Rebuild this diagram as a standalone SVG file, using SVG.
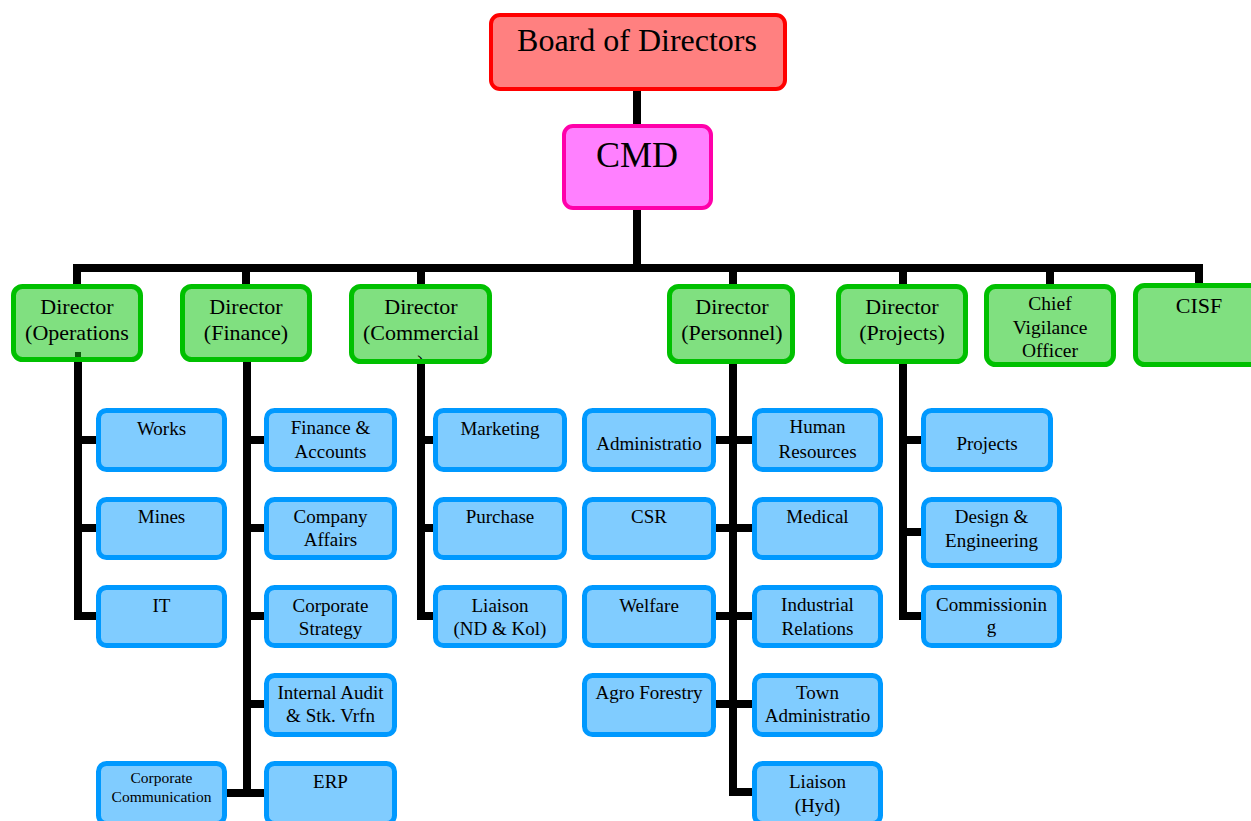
<svg xmlns="http://www.w3.org/2000/svg" width="1251" height="821" viewBox="0 0 1251 821">
<defs>
<style>
.t{font-family:"Liberation Serif","Times New Roman",serif;fill:#000;text-anchor:middle}
.top{fill:#FF8080;stroke:#FF0000;stroke-width:4}
.cmd{fill:#FF80FF;stroke:#FF00AA;stroke-width:4}
.dir{fill:#80E080;stroke:#00C000;stroke-width:5}
.unit{fill:#80CCFF;stroke:#0099FF;stroke-width:5}
.d{font-size:22px}
.u{font-size:19px}
.c{fill:none;stroke:#000;stroke-width:8;stroke-linejoin:miter}
</style>
<clipPath id="clipCom"><rect x="354" y="289" width="133" height="70"/></clipPath>
</defs>
<g id="connectors">
<path class="c" d="M637,91 V126 M637,208 V268"/>
<path class="c" d="M77,286 V268 H1199 V285 M246,268 V286 M421,268 V286 M733,268 V286 M903,268 V286 M1050,268 V286"/>
<path class="c" d="M78,360 V616 H98 M78,440 H98 M78,528 H98"/>
<path class="c" d="M247,360 V793 M227,793 H266 M247,440 H266 M247,528 H266 M247,616 H266 M247,704 H266"/>
<path class="c" d="M421,362 V616 H435 M421,440 H435 M421,528 H435"/>
<path class="c" d="M733,362 V792 H754 M714,440 H754 M714,528 H754 M714,616 H754 M714,704 H754"/>
<path class="c" d="M903,362 V616 H923 M903,440 H923 M903,532 H923"/>
</g>
<g id="board"><rect class="top" x="491" y="15" width="294" height="74" rx="9"/><text class="t" x="637" y="51" font-size="32">Board of Directors</text></g>
<g id="cmd"><rect class="cmd" x="564" y="126" width="147" height="82" rx="9"/><text class="t" x="637" y="167" font-size="36">CMD</text></g>
<g id="dir-operations"><rect class="dir" x="13.5" y="286.5" width="127" height="73" rx="9"/><text class="t d" x="77" y="314">Director</text><text class="t d" x="77" y="340">(Operations</text><rect x="75" y="352" width="6" height="5" fill="#0A5A0A"/></g>
<g id="dir-finance"><rect class="dir" x="182.5" y="286.5" width="127" height="73" rx="9"/><text class="t d" x="246" y="314">Director</text><text class="t d" x="246" y="340">(Finance)</text></g>
<g id="dir-commercial"><rect class="dir" x="351.5" y="286.5" width="138" height="75" rx="9"/><text class="t d" x="421" y="314">Director</text><text class="t d" x="421" y="340">(Commercial</text><text class="t d" x="421" y="370" clip-path="url(#clipCom)">)</text></g>
<g id="dir-personnel"><rect class="dir" x="669.5" y="286.5" width="123" height="75" rx="9"/><text class="t d" x="732" y="314">Director</text><text class="t d" x="732" y="340">(Personnel)</text></g>
<g id="dir-projects"><rect class="dir" x="838.5" y="286.5" width="127" height="75" rx="9"/><text class="t d" x="902" y="314">Director</text><text class="t d" x="902" y="340">(Projects)</text></g>
<g id="cvo"><rect class="dir" x="986.5" y="286.5" width="127" height="78" rx="9"/><text class="t" font-size="19.5" x="1050" y="310">Chief</text><text class="t" font-size="19.5" x="1050" y="334">Vigilance</text><text class="t" font-size="19.5" x="1050" y="357">Officer</text></g>
<g id="cisf"><rect class="dir" x="1135.5" y="285.5" width="127" height="79" rx="9"/><text class="t d" x="1199" y="313">CISF</text></g>
<g id="works"><rect class="unit" x="98.5" y="410.5" width="126" height="59" rx="8"/><text class="t u" x="161.5" y="435">Works</text></g>
<g id="mines"><rect class="unit" x="98.5" y="499.5" width="126" height="58" rx="8"/><text class="t u" x="161.5" y="523">Mines</text></g>
<g id="it"><rect class="unit" x="98.5" y="587.5" width="126" height="58" rx="8"/><text class="t u" x="161.5" y="612">IT</text></g>
<g id="corp-comm"><rect class="unit" x="98.5" y="763.5" width="126" height="60" rx="8"/><text class="t" font-size="15.5" x="161.5" y="783">Corporate</text><text class="t" font-size="15.5" x="161.5" y="802">Communication</text></g>
<g id="fin-acc"><rect class="unit" x="266.5" y="410.5" width="128" height="59" rx="8"/><text class="t u" x="330.5" y="434">Finance &amp;</text><text class="t u" x="330.5" y="458">Accounts</text></g>
<g id="company-affairs"><rect class="unit" x="266.5" y="499.5" width="128" height="58" rx="8"/><text class="t u" x="330.5" y="523">Company</text><text class="t u" x="330.5" y="546">Affairs</text></g>
<g id="corp-strategy"><rect class="unit" x="266.5" y="587.5" width="128" height="58" rx="8"/><text class="t u" x="330.5" y="612">Corporate</text><text class="t u" x="330.5" y="635">Strategy</text></g>
<g id="internal-audit"><rect class="unit" x="266.5" y="675.5" width="128" height="59" rx="8"/><text class="t u" x="330.5" y="699">Internal Audit</text><text class="t u" x="330.5" y="722">&amp; Stk. Vrfn</text></g>
<g id="erp"><rect class="unit" x="266.5" y="763.5" width="128" height="60" rx="8"/><text class="t u" x="330.5" y="788">ERP</text></g>
<g id="marketing"><rect class="unit" x="435.5" y="410.5" width="129" height="59" rx="8"/><text class="t u" x="500" y="435">Marketing</text></g>
<g id="purchase"><rect class="unit" x="435.5" y="499.5" width="129" height="58" rx="8"/><text class="t u" x="500" y="523">Purchase</text></g>
<g id="liaison-nd"><rect class="unit" x="435.5" y="587.5" width="129" height="58" rx="8"/><text class="t u" x="500" y="612">Liaison</text><text class="t u" x="500" y="635">(ND &amp; Kol)</text></g>
<g id="administration"><rect class="unit" x="584.5" y="410.5" width="129" height="59" rx="8"/><text class="t u" x="649" y="450">Administratio</text></g>
<g id="csr"><rect class="unit" x="584.5" y="499.5" width="129" height="58" rx="8"/><text class="t u" x="649" y="523">CSR</text></g>
<g id="welfare"><rect class="unit" x="584.5" y="587.5" width="129" height="58" rx="8"/><text class="t u" x="649" y="612">Welfare</text></g>
<g id="agro"><rect class="unit" x="584.5" y="675.5" width="129" height="59" rx="8"/><text class="t u" x="649" y="699">Agro Forestry</text></g>
<g id="hr"><rect class="unit" x="754.5" y="410.5" width="126" height="59" rx="8"/><text class="t u" x="817.5" y="433">Human</text><text class="t u" x="817.5" y="458">Resources</text></g>
<g id="medical"><rect class="unit" x="754.5" y="499.5" width="126" height="58" rx="8"/><text class="t u" x="817.5" y="523">Medical</text></g>
<g id="ir"><rect class="unit" x="754.5" y="587.5" width="126" height="58" rx="8"/><text class="t u" x="817.5" y="611">Industrial</text><text class="t u" x="817.5" y="635">Relations</text></g>
<g id="town"><rect class="unit" x="754.5" y="675.5" width="126" height="59" rx="8"/><text class="t u" x="817.5" y="699">Town</text><text class="t u" x="817.5" y="722">Administratio</text></g>
<g id="liaison-hyd"><rect class="unit" x="754.5" y="763.5" width="126" height="60" rx="8"/><text class="t u" x="817.5" y="788">Liaison</text><text class="t u" x="817.5" y="812">(Hyd)</text></g>
<g id="projects"><rect class="unit" x="923.5" y="410.5" width="127" height="59" rx="8"/><text class="t u" x="987" y="450">Projects</text></g>
<g id="design"><rect class="unit" x="923.5" y="499.5" width="136" height="66" rx="8"/><text class="t u" x="991.5" y="523">Design &amp;</text><text class="t u" x="991.5" y="547">Engineering</text></g>
<g id="commissioning"><rect class="unit" x="923.5" y="587.5" width="136" height="58" rx="8"/><text class="t u" x="991.5" y="611">Commissionin</text><text class="t u" x="991.5" y="633">g</text></g>
</svg>
